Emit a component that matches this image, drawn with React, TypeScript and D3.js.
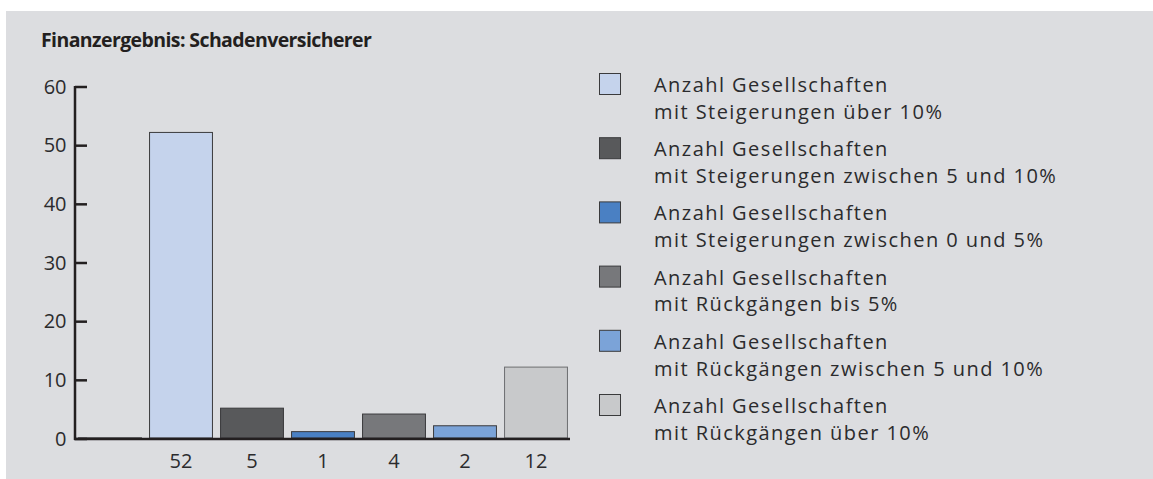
import React, { useEffect, useRef } from 'react';
import * as d3 from 'd3';

// Werte je Balken (erster Platz ist leer, Wert 0)
const slots = ['leer', 'ueber10', 'z5bis10', 'z0bis5', 'rueck5', 'rueck5bis10', 'rueck10'];
const values = [0, 52, 5, 1, 4, 2, 12];
const tickLabels = ['', '52', '5', '1', '4', '2', '12'];
const colors = ['#dcdde0', '#c5d3ec', '#58595b', '#4a80c3', '#77787b', '#7ba3d8', '#c8c9cb'];
const yTicks = [0, 10, 20, 30, 40, 50, 60];

const legendLines = [
  ['Anzahl Gesellschaften', 'mit Steigerungen über 10%'],
  ['Anzahl Gesellschaften', 'mit Steigerungen zwischen 5 und 10%'],
  ['Anzahl Gesellschaften', 'mit Steigerungen zwischen 0 und 5%'],
  ['Anzahl Gesellschaften', 'mit Rückgängen bis 5%'],
  ['Anzahl Gesellschaften', 'mit Rückgängen zwischen 5 und 10%'],
  ['Anzahl Gesellschaften', 'mit Rückgängen über 10%'],
];
const legendColors = colors.slice(1);

const title = 'Finanzergebnis: Schadenversicherer';

export default function App() {
  const ref = useRef<SVGSVGElement>(null);

  useEffect(() => {
    const width = 1153;
    const height = 479;
    const font = '"Open Sans", "Noto Sans", sans-serif';
    const txt = '#2b2b2d';
    const svg = d3.select(ref.current);
    svg.selectAll('*').remove();

    // Hintergrund
    svg.append('rect')
      .attr('x', 6).attr('y', 11)
      .attr('width', width - 6).attr('height', height - 11)
      .attr('fill', '#dcdde0');

    svg.append('text')
      .attr('x', 41).attr('y', 47)
      .attr('font-family', font)
      .attr('font-weight', 700)
      .attr('font-size', 19.5)
      .attr('letter-spacing', -0.6)
      .attr('fill', '#231f20')
      .text(title);

    const axisX = 75;
    const x = d3.scaleBand<string>()
      .domain(slots)
      .range([74.5, 571.5])
      .paddingInner(0.1)
      .paddingOuter(0.05);
    const y = d3.scaleLinear().domain([0, 60]).range([439, 87]);

    // Balken
    svg.append('g')
      .selectAll('rect')
      .data(values)
      .enter()
      .append('rect')
      .attr('x', (d, i) => x(slots[i])! + 0.5)
      .attr('y', (d) => y(d) - 1.5)
      .attr('width', x.bandwidth() - 1)
      .attr('height', (d) => Math.max(0, y(0) - y(d)) + 0.5)
      .attr('fill', (d, i) => colors[i])
      .attr('stroke', (d, i) => (i === 6 || i === 0 ? '#6d6e71' : '#3a3a3c'))
      .attr('stroke-width', 1);

    // y-Achse
    const gy = svg.append('g');
    gy.append('line')
      .attr('x1', axisX).attr('x2', axisX)
      .attr('y1', y(60) - 1).attr('y2', y(0) + 1)
      .attr('stroke', '#231f20').attr('stroke-width', 2.5);
    yTicks.forEach((t) => {
      gy.append('line')
        .attr('x1', axisX).attr('x2', axisX + 12)
        .attr('y1', y(t)).attr('y2', y(t))
        .attr('stroke', '#231f20').attr('stroke-width', 2.5);
      gy.append('text')
        .attr('x', 66.5).attr('y', y(t) + 6.5)
        .attr('text-anchor', 'end')
        .attr('font-family', font)
        .attr('font-size', 20)
        .attr('fill', txt)
        .text(t);
    });

    // x-Achse
    svg.append('line')
      .attr('x1', axisX - 1).attr('x2', 570)
      .attr('y1', y(0)).attr('y2', y(0))
      .attr('stroke', '#231f20').attr('stroke-width', 2.5);
    svg.append('g')
      .selectAll('text')
      .data(tickLabels)
      .enter()
      .append('text')
      .attr('x', (d, i) => x(slots[i])! + x.bandwidth() / 2)
      .attr('y', 468)
      .attr('text-anchor', 'middle')
      .attr('font-family', font)
      .attr('font-size', 20)
      .attr('fill', txt)
      .text((d) => d);

    // Legende
    const lg = svg.append('g');
    legendLines.forEach((lines, i) => {
      const top = 73 + i * 64.2;
      lg.append('rect')
        .attr('x', 599.5).attr('y', top + 0.5)
        .attr('width', 21).attr('height', 21)
        .attr('fill', legendColors[i])
        .attr('stroke', '#3a3a3c').attr('stroke-width', 1);
      lines.forEach((l, j) => {
        lg.append('text')
          .attr('x', 654).attr('y', top + 19 + j * 26.7)
          .attr('font-family', font)
          .attr('font-size', 20)
          .attr('letter-spacing', 1.45)
          .attr('fill', txt)
          .text(l);
      });
    });
  }, []);

  return (
    <svg ref={ref} width={1153} height={479}
      style={{ position: 'absolute', left: 0, top: 0 }} />
  );
}
